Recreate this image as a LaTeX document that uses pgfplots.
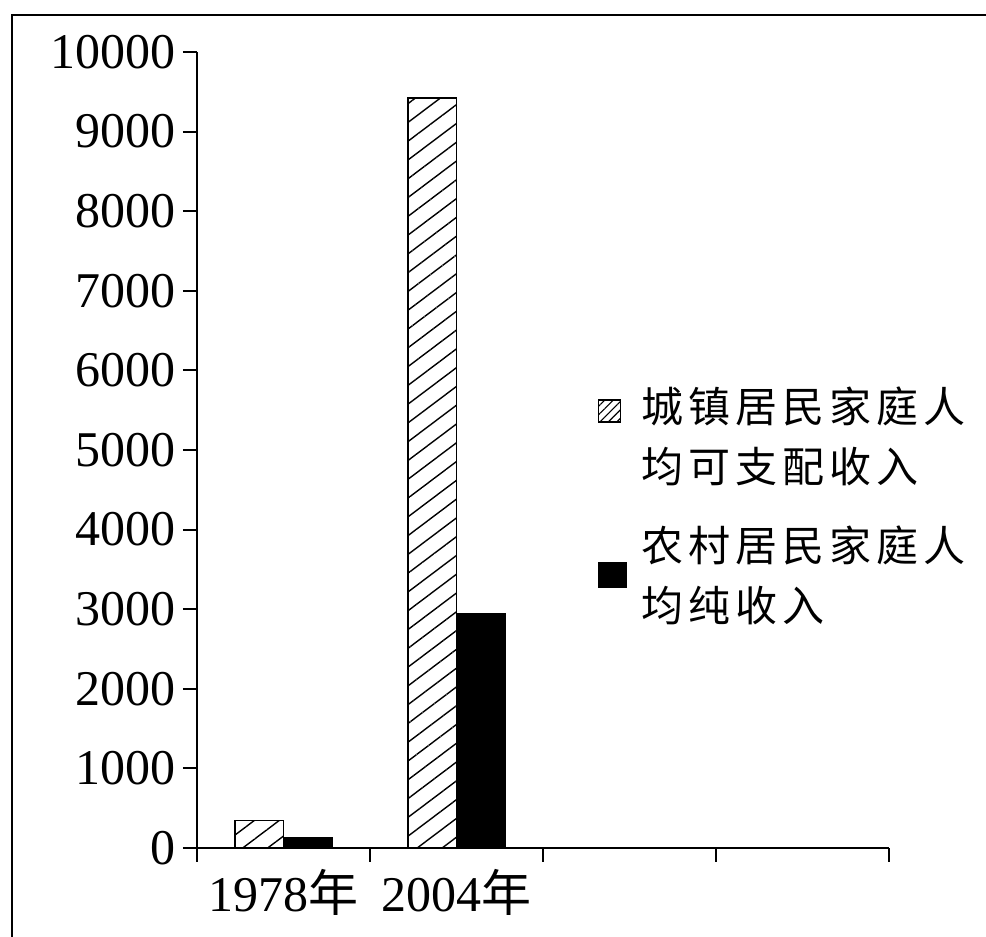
\documentclass[border=0pt]{standalone}
\usepackage{fontspec}
\setmainfont{Liberation Serif}
\newfontfamily\cjk[LetterSpace=12]{Noto Sans CJK SC}
\usepackage{pgfplots}
\pgfplotsset{compat=1.18}
\usetikzlibrary{patterns.meta}

\begin{document}
\begin{tikzpicture}
\path[use as bounding box] (-98.5pt,-44.5pt) rectangle (394.5pt,424pt);
% outer frame of the figure
\draw[line width=1.3pt] (-92.5pt,-44.5pt) -- (-92.5pt,416.5pt) -- (394.5pt,416.5pt);
\begin{axis}[
  at={(0,0)}, anchor=south west,
  scale only axis,
  width=346pt, height=398pt,
  xmin=0, xmax=4, ymin=0, ymax=10000,
  axis lines=left, axis line style={-, line width=1pt},
  tick align=outside,
  ytick distance=1000,
  xtick={0.5,1.5},
  xticklabels={1978{\cjk 年},2004{\cjk 年}},
  major x tick style={draw=none},
  minor xtick={0,1,2,3,4},
  minor tick length=7pt,
  major tick length=7pt,
  tick style={line width=1pt, black},
  scaled y ticks=false,
  /pgf/number format/assume math mode=true,
  yticklabel={\pgfmathprintnumber[fixed,1000 sep={}]{\tick}},
  ticklabel style={font=\fontsize{25}{30}\selectfont},
  ybar=0pt, bar width=0.28,
  legend style={at={(axis cs:2.28,5900)}, anchor=north west, draw=none, fill=none,
    font=\fontsize{21}{30}\selectfont, row sep=16pt,
    cells={anchor=west, align=left}},
]
\addplot[draw=black, line width=0.8pt,
  pattern={Lines[angle=37,distance=7.5pt,line width=0.7pt]},
  legend image code/.code={\draw[black, line width=0.6pt, pattern={Lines[angle=45,distance=3pt,line width=0.6pt]}] (0pt,7pt) rectangle (11pt,18pt); \path (19pt,0pt);}]
  coordinates {(0.5,343.4) (1.5,9422)};
\addlegendentry{{\cjk 城镇居民家庭人}\\{\cjk 均可支配收入}}
\addplot[draw=black, fill=black, line width=0.8pt,
  legend image code/.code={\fill[black] (0pt,-6pt) rectangle (14pt,6pt); \path (19pt,0pt);}]
  coordinates {(0.5,133.6) (1.5,2936)};
\addlegendentry{{\cjk 农村居民家庭人}\\{\cjk 均纯收入}}
\end{axis}
\end{tikzpicture}
\end{document}
